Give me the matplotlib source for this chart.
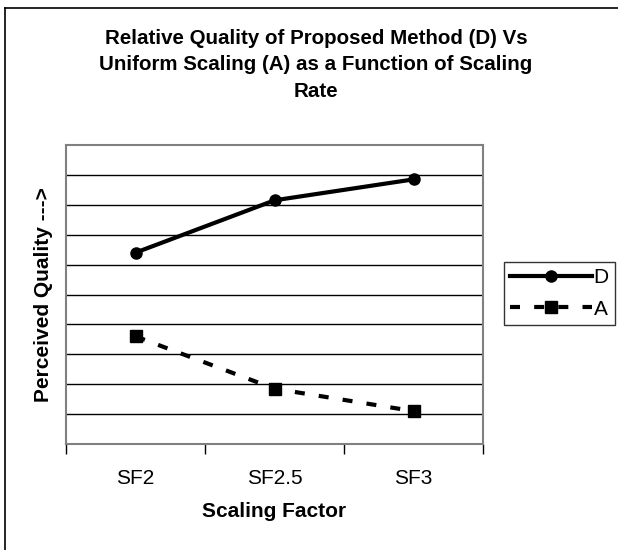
import matplotlib.pyplot as plt
from matplotlib.lines import Line2D

plt.rcParams['font.family'] = ['Liberation Sans', 'DejaVu Sans']

categories = ['SF2', 'SF2.5', 'SF3']
d_values = [6.4, 8.15, 8.85]
a_values = [3.6, 1.85, 1.1]
title = 'Relative Quality of Proposed Method (D) Vs\nUniform Scaling (A) as a Function of Scaling\nRate'

fig = plt.figure(figsize=(6.18, 5.5), dpi=100)
ax = fig.add_axes([66 / 618, 1 - 444 / 550, (483 - 66) / 618, (444 - 145) / 550])

x = list(range(len(categories)))
ax.plot(x, d_values, color='black', lw=3, marker='o', ms=8, label='D')
ax.plot(x, a_values, color='black', lw=3, ls=(0, (2.4, 3.4)), marker='s', ms=8, label='A')

ax.set_xlim(-0.5, 2.5)
ax.set_ylim(0, 10)
ax.set_yticks(range(1, 10))
ax.yaxis.grid(True, color='black', lw=1)
ax.set_axisbelow(True)
ax.tick_params(axis='y', length=0, labelleft=False)
ax.set_xticks(x)
ax.set_xticklabels(categories, fontsize=15)
ax.set_xticks([-0.5, 0.5, 1.5, 2.5], minor=True)
ax.tick_params(axis='x', which='major', length=0, pad=18)
ax.tick_params(axis='x', which='minor', length=7, width=1, color='black')
for s in ax.spines.values():
    s.set_color('#808080')
    s.set_linewidth(1.5)

ax.set_xlabel('Scaling Factor', fontsize=15, fontweight='bold', labelpad=10)
fig.text(44 / 618, 1 - 295 / 550, 'Perceived Quality --->', rotation=90, ha='center', va='center',
         fontsize=15, fontweight='bold')

fig.text(316 / 618, 1 - 65 / 550, title, ha='center', va='center', fontsize=14.8,
         fontweight='bold', linespacing=1.5)

handles = [Line2D([], [], color='black', lw=3, marker='o', ms=8),
           Line2D([], [], color='black', lw=3, ls=(0, (2.4, 3.4)), marker='s', ms=8)]
leg = fig.legend(handles, ['D', 'A'], loc='upper left', bbox_to_anchor=(504 / 618, 1 - 262 / 550),
                 fontsize=15, frameon=True, fancybox=False, edgecolor='black',
                 handlelength=3.9, handletextpad=0.1, borderpad=0.3, labelspacing=0.6,
                 borderaxespad=0)
leg.get_frame().set_linewidth(1)

# outer chart border (left and top visible)
fig.add_artist(Line2D([5 / 618, 5 / 618], [0, 1 - 8 / 550], color='black', lw=1.2))
fig.add_artist(Line2D([5 / 618, 1], [1 - 8 / 550, 1 - 8 / 550], color='black', lw=1.2))

fig.savefig('out.png', dpi=100)
